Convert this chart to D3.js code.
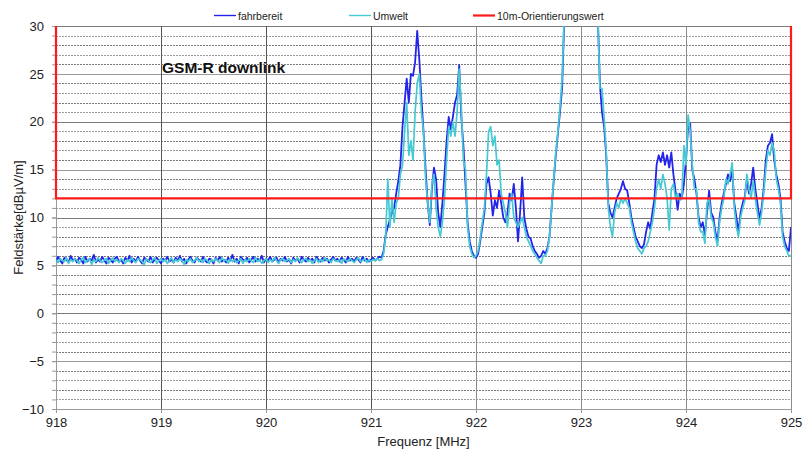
<!DOCTYPE html>
<html>
<head>
<meta charset="utf-8">
<script src="https://cdn.jsdelivr.net/npm/d3@7/dist/d3.min.js"></script>
<style>
  body { margin: 0; background: #fff; }
  text { font-family: "Liberation Sans", Arial, sans-serif; fill: #222; }
  .tick text { font-size: 13px; }
  .axisTitle { font-size: 13px; }
  .legend text { font-size: 10.5px; }
</style>
</head>
<body>
<div id="chart"></div>
<script>
(function(d3) {
  "use strict";

  // Frequenzraster der Messung (MHz)
  var freqStart = 918;
  var freqStep = 0.02;

  // fahrbereit: Grundrauschen 918.00 - 921.08
  var fahrbereitBasis = [
    5.4,5.9,5.5,5.2,5.8,5.6,5.3,6.0,5.5,5.7,
    5.3,5.8,5.6,5.2,5.9,5.4,5.7,5.5,6.1,5.3,
    5.6,5.4,5.9,5.5,5.2,5.8,5.6,5.3,5.7,5.9,
    5.4,5.6,5.2,5.8,5.5,6.0,5.3,5.7,5.4,5.9,
    5.5,5.2,5.8,5.6,5.4,5.9,5.3,5.6,5.8,5.5,
    5.2,5.7,5.5,5.9,5.4,5.6,5.3,5.8,5.5,6.0,
    5.4,5.7,5.2,5.6,5.9,5.5,5.3,5.8,5.6,5.4,
    5.9,5.5,5.3,5.7,5.6,5.2,5.8,5.5,5.9,5.4,
    5.6,5.3,5.8,5.5,6.1,5.4,5.7,5.2,5.9,5.6,
    5.5,5.8,5.3,5.6,5.9,5.4,5.7,5.5,6.0,5.3,
    5.7,5.5,5.9,5.4,5.6,5.8,5.3,5.7,5.5,5.9,
    5.4,5.6,5.2,5.8,5.5,5.7,5.3,5.9,5.6,5.4,
    5.8,5.5,5.7,5.3,5.9,5.6,5.4,5.8,5.5,5.7,
    5.3,5.6,5.9,5.5,5.7,5.4,5.8,5.6,5.3,5.9,
    5.5,5.7,5.4,5.8,5.6,5.3,5.9,5.5,5.7,5.4,
    5.6,5.8,5.5,5.7,5.9
  ];
  // fahrbereit: Signalbereich 921.10 - 925.00
  var fahrbereitSignal = [
    5.8,6.5,8.2,9.0,9.8,10.5,11.0,12.5,13.8,15.5,
    19.5,22.0,24.5,22.0,25.0,24.8,26.2,29.5,26.5,22.5,
    19.0,15.0,11.5,9.2,13.0,15.2,14.0,10.5,9.0,11.5,
    14.5,18.0,20.5,19.2,20.5,22.0,22.8,25.9,20.5,17.5,
    13.5,9.5,7.5,6.5,6.0,5.8,6.2,7.5,9.0,10.5,
    13.5,14.2,12.5,10.2,11.8,11.0,12.8,11.5,10.0,9.5,
    10.5,12.5,11.8,13.5,11.0,7.5,10.5,14.2,10.0,8.8,
    8.0,7.8,7.0,6.5,6.2,5.8,6.0,6.5,6.2,6.8,
    8.0,11.0,13.8,16.5,18.8,21.0,23.5,30.5,34,37,
    39,40,41,41,40,40,41,41,40,39,
    38,36,34,31,24.0,21.0,19.5,16.5,11.5,10.5,
    10.0,11.0,12.0,12.5,13.0,13.8,13.0,12.8,11.5,10.0,
    9.0,8.0,7.5,7.0,6.8,7.2,8.5,9.5,8.8,10.5,
    12.0,15.5,16.5,15.8,16.8,15.5,16.5,15.2,16.8,14.5,
    12.8,10.8,12.5,12.0,13.5,16.0,19.5,19.8,15.0,14.0,
    12.5,10.0,9.0,9.5,8.2,10.5,12.8,10.5,10.0,8.5,
    7.5,10.0,11.5,12.5,13.5,14.5,13.8,15.0,11.5,10.0,
    8.5,10.5,11.5,12.2,14.0,12.5,13.5,15.2,13.0,11.5,
    9.8,11.0,13.0,16.0,17.5,17.8,18.7,16.0,14.5,13.5,
    12.0,8.5,7.5,6.8,6.5,9.0
  ];

  // Umwelt: Grundrauschen 918.00 - 921.08
  var umweltBasis = [
    5.6,5.3,5.7,5.5,5.4,5.8,5.2,5.6,5.4,5.7,
    5.5,5.2,5.6,5.8,5.3,5.5,5.7,5.1,5.6,5.4,
    5.8,5.5,5.3,5.6,5.7,5.2,5.5,5.8,5.4,5.6,
    5.3,5.7,5.5,5.2,5.6,5.4,5.8,5.5,5.3,5.7,
    5.6,5.4,5.1,5.7,5.5,5.3,5.6,5.8,5.2,5.5,
    5.7,5.4,5.6,5.2,5.5,5.8,5.3,5.6,5.4,5.7,
    5.5,5.1,5.6,5.4,5.7,5.3,5.5,5.8,5.4,5.6,
    5.3,5.7,5.5,5.2,5.6,5.4,5.7,5.5,5.3,5.8,
    5.5,5.6,5.2,5.7,5.4,5.6,5.3,5.5,5.7,5.2,
    5.6,5.4,5.7,5.5,5.3,5.8,5.4,5.6,5.2,5.5,
    5.7,5.3,5.6,5.4,5.8,5.5,5.2,5.6,5.7,5.4,
    5.5,5.7,5.3,5.6,5.4,5.8,5.5,5.3,5.6,5.7,
    5.4,5.6,5.2,5.5,5.7,5.3,5.6,5.4,5.8,5.5,
    5.6,5.3,5.7,5.5,5.4,5.6,5.2,5.7,5.5,5.4,
    5.7,5.5,5.3,5.6,5.8,5.4,5.5,5.7,5.3,5.6,
    5.4,5.6,5.5,5.7,5.5
  ];
  // Umwelt: Signalbereich 921.10 - 925.00
  var umweltSignal = [
    5.6,6.2,8.0,14.0,9.0,12.0,9.5,11.5,12.0,14.5,
    15.5,19.0,22.0,16.5,18.0,16.0,21.0,24.0,25.0,21.0,
    19.0,14.0,11.5,9.5,13.5,14.5,11.0,9.0,8.0,9.5,
    12.0,16.0,19.5,18.5,20.0,18.5,21.0,25.5,21.5,16.0,
    15.0,9.0,7.0,6.2,5.8,6.0,6.5,7.8,9.5,11.0,
    14.5,19.0,19.5,17.5,18.5,15.5,16.0,12.5,11.5,10.5,
    9.0,11.5,12.5,10.0,9.5,9.0,9.5,10.0,9.0,8.0,
    7.5,7.0,6.5,6.2,5.8,5.5,5.2,6.0,6.0,6.5,
    8.0,11.0,14.0,16.8,19.0,21.5,24.5,31,34,37,
    39,40,41,41,40,40,41,41,40,39,
    38,36,34,31,23.5,23.5,20.5,17.0,11.0,9.0,
    8.0,10.5,11.5,11.0,12.0,11.5,12.0,11.5,11.0,9.5,
    8.5,7.5,6.8,6.5,6.2,6.8,7.0,7.5,8.5,9.5,
    11.0,13.0,14.0,13.0,14.5,13.5,12.0,8.7,13.0,13.5,
    12.0,12.5,11.8,12.0,17.5,15.5,20.7,19.0,15.5,13.0,
    13.0,9.5,8.5,8.5,7.3,11.5,12.0,10.0,9.5,8.0,
    7.0,9.5,11.0,12.0,14.0,13.5,14.5,15.7,11.0,9.0,
    8.0,10.0,11.0,11.8,14.5,13.0,12.0,13.8,12.0,10.5,
    9.2,10.5,12.5,15.0,17.0,16.5,17.8,17.0,14.0,13.0,
    11.5,8.0,7.0,6.5,6.0,6.0
  ];

  // 10m-Orientierungswert (Rahmen)
  var grenzFreq = [918, 918, 925, 925];
  var grenzWert = [30, 12, 12, 30];

  var xTicks = [918, 919, 920, 921, 922, 923, 924, 925];
  var yTicks = [-10, -5, 0, 5, 10, 15, 20, 25, 30];
  var serien = ["fahrbereit", "Umwelt", "10m-Orientierungswert"];
  var colors = ["#2323ec", "#45c9d2", "#ff1a1a"];

  var fahrbereit = fahrbereitBasis.concat(fahrbereitSignal);
  var umwelt = umweltBasis.concat(umweltSignal);

  var Graph = { left: 56, top: 26, right: 791, bottom: 409 };

  var svg = d3.select("#chart")
    .append("svg")
    .attr("width", 803)
    .attr("height", 457);

  var x = d3.scaleLinear().domain([918, 925]).range([Graph.left, Graph.right]);
  var y = d3.scaleLinear().domain([-10, 30]).range([Graph.bottom, Graph.top]);

  svg.append("clipPath").attr("id", "plot")
    .append("rect")
    .attr("x", Graph.left).attr("y", Graph.top)
    .attr("width", Graph.right - Graph.left)
    .attr("height", Graph.bottom - Graph.top);

  // Gitter horizontal (jede Einheit)
  svg.append("g")
    .selectAll("line")
    .data(y.ticks(40))
    .enter().append("line")
    .attr("x1", Graph.left).attr("x2", Graph.right)
    .attr("y1", d => Math.round(y(d)) + 0.5)
    .attr("y2", d => Math.round(y(d)) + 0.5)
    .attr("stroke", d => d % 2 == 0 ? "#7a7a7a" : "#9a9a9a")
    .attr("stroke-dasharray", d => d % 5 == 0 ? null : "2,1");

  // Gitter vertikal
  svg.append("g")
    .selectAll("line")
    .data(xTicks)
    .enter().append("line")
    .attr("x1", d => Math.round(x(d)) + 0.5).attr("x2", d => Math.round(x(d)) + 0.5)
    .attr("y1", Graph.top).attr("y2", Graph.bottom)
    .attr("stroke", d => d < 922 ? "#555" : "#8a8a8a");

  // Achsen
  svg.append("g")
    .attr("transform", `translate(${Graph.left},0)`)
    .call(d3.axisLeft(y).tickValues(y.ticks(40)).tickSize(4).tickFormat(""));
  svg.append("g")
    .attr("transform", `translate(${Graph.left},0)`)
    .call(d3.axisLeft(y).tickValues(yTicks).tickSize(4).tickPadding(8));
  svg.append("g")
    .attr("transform", `translate(0,${Graph.bottom})`)
    .call(d3.axisBottom(x).tickValues(xTicks).tickSize(4).tickPadding(5).tickFormat(d3.format("d")));
  svg.selectAll(".domain").attr("stroke", "#999");
  svg.selectAll(".tick line").attr("stroke", "#999");
  svg.selectAll(".tick text").attr("fill", "#222");

  // Messkurven
  var line = d3.line()
    .x((d, i) => x(freqStart + i * freqStep))
    .y(d => y(d));

  var plot = svg.append("g").attr("clip-path", "url(#plot)");
  plot.append("path")
    .datum(fahrbereit)
    .attr("fill", "none")
    .attr("stroke", colors[0])
    .attr("stroke-width", 1.8)
    .attr("stroke-linejoin", "round")
    .attr("d", line);
  plot.append("path")
    .datum(umwelt)
    .attr("fill", "none")
    .attr("stroke", colors[1])
    .attr("stroke-width", 1.7)
    .attr("stroke-linejoin", "round")
    .attr("d", line);

  // Orientierungswert
  svg.append("path")
    .datum(d3.zip(grenzFreq, grenzWert))
    .attr("fill", "none")
    .attr("stroke", colors[2])
    .attr("stroke-width", 2.2)
    .attr("d", d3.line().x(d => x(d[0])).y(d => y(d[1])));

  // Titel im Diagramm
  svg.append("text")
    .attr("x", 162).attr("y", 73)
    .style("font-size", "15.5px")
    .style("font-weight", "bold")
    .style("fill", "#111")
    .text("GSM-R downlink");

  // Achsentitel
  svg.append("text")
    .attr("class", "axisTitle")
    .attr("text-anchor", "middle")
    .attr("x", (Graph.left + Graph.right) / 2)
    .attr("y", 446)
    .text("Frequenz [MHz]");
  svg.append("text")
    .attr("class", "axisTitle")
    .attr("text-anchor", "middle")
    .attr("transform", `translate(23,${(Graph.top + Graph.bottom) / 2}) rotate(-90)`)
    .text("Feldstärke[dBµV/m]");

  // Legende
  var legendX = [214, 349, 473];
  var legend = svg.append("g").attr("class", "legend");
  serien.forEach(function(name, i) {
    legend.append("line")
      .attr("x1", legendX[i]).attr("x2", legendX[i] + 22)
      .attr("y1", 15.5).attr("y2", 15.5)
      .attr("stroke", colors[i])
      .attr("stroke-width", i == 2 ? 2.2 : 1.4);
    legend.append("text")
      .attr("x", legendX[i] + 24)
      .attr("y", 19.5)
      .text(name);
  });

})(d3);
</script>
</body>
</html>
